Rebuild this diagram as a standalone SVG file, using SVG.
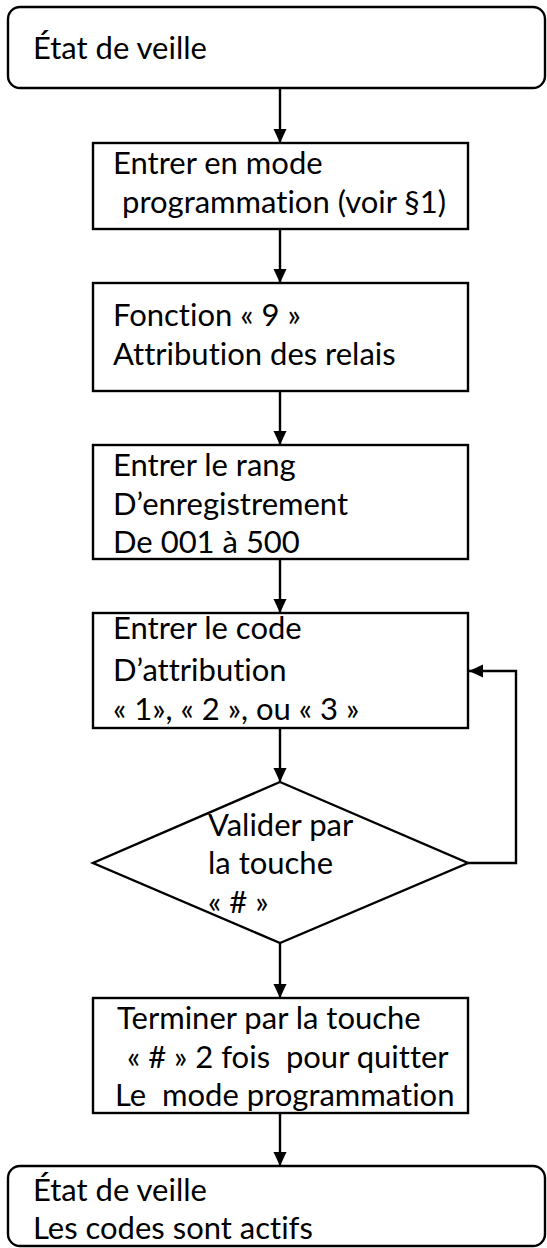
<svg xmlns="http://www.w3.org/2000/svg" width="547" height="1248" viewBox="0 0 547 1248">
<style>
.box{fill:#fff;stroke:#000;stroke-width:2.4}
.ln{fill:none;stroke:#000;stroke-width:2.4}
text{font-family:"Lato","Open Sans",sans-serif;font-size:31px;fill:#000;white-space:pre;font-variant-ligatures:none}
</style>
<defs>
<marker id="ah" markerWidth="14" markerHeight="14" viewBox="0 0 14 14" refX="14" refY="7" orient="auto" markerUnits="userSpaceOnUse">
<path d="M0,0.5 L14,7 L0,13.5 Z" fill="#000"/>
</marker>
</defs>
<rect width="547" height="1248" fill="#fff"/>
<g id="connectors">
<line class="ln" x1="280" y1="88" x2="280" y2="143" marker-end="url(#ah)"/>
<line class="ln" x1="280" y1="229" x2="280" y2="283" marker-end="url(#ah)"/>
<line class="ln" x1="280" y1="391" x2="280" y2="445" marker-end="url(#ah)"/>
<line class="ln" x1="280" y1="559" x2="280" y2="613" marker-end="url(#ah)"/>
<line class="ln" x1="280" y1="728" x2="280" y2="782" marker-end="url(#ah)"/>
<line class="ln" x1="280" y1="943" x2="280" y2="998" marker-end="url(#ah)"/>
<line class="ln" x1="280" y1="1113" x2="280" y2="1166" marker-end="url(#ah)"/>
<polyline class="ln" points="468,863 516,863 516,671 469,671" marker-end="url(#ah)"/>
</g>
<g id="start">
<rect class="box" x="8" y="7" width="537" height="81" rx="12"/>
<text x="33" y="59">État de veille</text>
</g>
<g id="mode">
<rect class="box" x="93" y="143" width="375" height="86"/>
<text x="113" y="174">Entrer en mode</text>
<text x="122" y="213">programmation (voir §1)</text>
</g>
<g id="fonction">
<rect class="box" x="93" y="283" width="375" height="108"/>
<text x="113" y="326">Fonction « 9 »</text>
<text x="113" y="365">Attribution des relais</text>
</g>
<g id="rang">
<rect class="box" x="93" y="445" width="375" height="114"/>
<text x="113" y="476">Entrer le rang</text>
<text x="113" y="515">D’enregistrement</text>
<text x="113" y="553">De 001 à 500</text>
</g>
<g id="code">
<rect class="box" x="93" y="613" width="375" height="115"/>
<text x="113" y="639">Entrer le code</text>
<text x="113" y="681">D’attribution</text>
<text x="113" y="720">« 1», « 2 », ou « 3 »</text>
</g>
<g id="valider">
<polygon class="box" points="280,782 468,863 280,943 93,863"/>
<text x="208" y="836">Valider par</text>
<text x="208" y="874">la touche</text>
<text x="208" y="913">« # »</text>
</g>
<g id="terminer">
<rect class="box" x="93" y="998" width="375" height="115"/>
<text x="117" y="1029">Terminer par la touche</text>
<text x="119" y="1068"> « # » 2 fois  pour quitter</text>
<text x="115" y="1106">Le  mode programmation</text>
</g>
<g id="fin">
<rect class="box" x="8" y="1166" width="537" height="80" rx="12"/>
<text x="33" y="1201">État de veille</text>
<text x="33" y="1239">Les codes sont actifs</text>
</g>
</svg>
